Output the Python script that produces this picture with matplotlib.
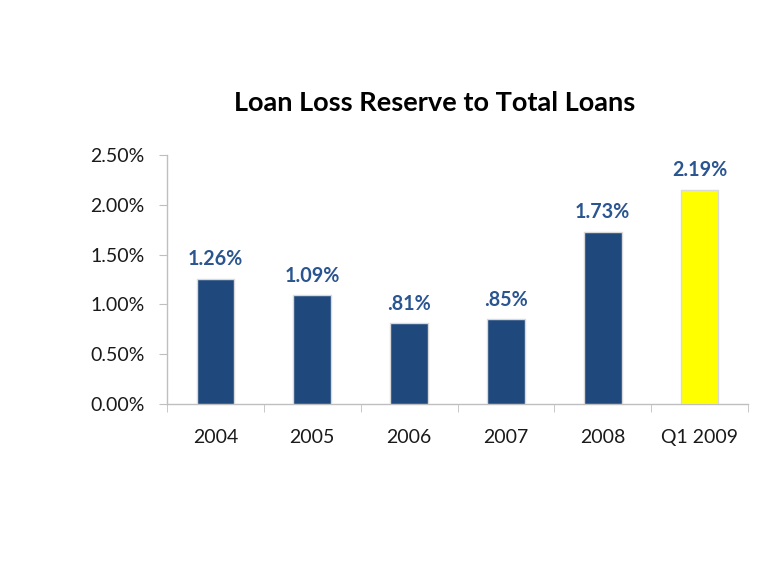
import matplotlib
matplotlib.use("Agg")
import matplotlib.pyplot as plt
from matplotlib.ticker import FuncFormatter

categories = ["2004", "2005", "2006", "2007", "2008", "Q1 2009"]
values = [1.26, 1.09, 0.81, 0.85, 1.73, 2.15]
value_labels = ["1.26%", "1.09%", ".81%", ".85%", "1.73%", "2.19%"]
bar_colors = ["#1F497D", "#1F497D", "#1F497D", "#1F497D", "#1F497D", "#FFFF00"]
yticks = [0.0, 0.5, 1.0, 1.5, 2.0, 2.5]

plt.rcParams['font.family'] = ['Lato', 'DejaVu Sans']

fig = plt.figure(figsize=(7.8, 5.85), dpi=100)
ax = fig.add_axes([167/780, 1-404/585, (748-167)/780, (404-155)/585])

x = list(range(len(categories)))
bars = ax.bar(x, values, width=0.39, color=bar_colors, edgecolor="#D9D9D9", linewidth=1.0, zorder=3)

for xi, v, lab in zip(x, values, value_labels):
    ax.annotate(lab, (xi, v), xytext=(0, 7), textcoords="offset points",
                ha="center", va="bottom", fontsize=14.2, fontweight="bold", color="#2A5590")

ax.set_xlim(-0.5, len(categories) - 0.5)
ax.set_ylim(0, 2.5)
ax.set_yticks(yticks)
ax.yaxis.set_major_formatter(FuncFormatter(lambda v, p: f"{v:.2f}%"))
ax.set_xticks(x)
ax.set_xticklabels(categories)
ax.set_xticks([i - 0.5 for i in range(len(categories) + 1)], minor=True)

for s in ["top", "right"]:
    ax.spines[s].set_visible(False)
for s in ["left", "bottom"]:
    ax.spines[s].set_color("#BFBFBF")
    ax.spines[s].set_linewidth(1)

ax.tick_params(axis="y", direction="out", length=6, color="#BFBFBF", labelsize=14, pad=10, labelcolor="#1A1A1A")
ax.tick_params(axis="x", which="major", length=0, labelsize=14, pad=18, labelcolor="#1A1A1A")
ax.tick_params(axis="x", which="minor", direction="out", length=6, color="#BFBFBF")

fig.text(435/780, 1-103/585, "Loan Loss Reserve to Total Loans", ha="center", va="center",
         fontsize=19.5, fontweight="bold", color="#000000")

fig.savefig("out.png", dpi=100, facecolor="white")
